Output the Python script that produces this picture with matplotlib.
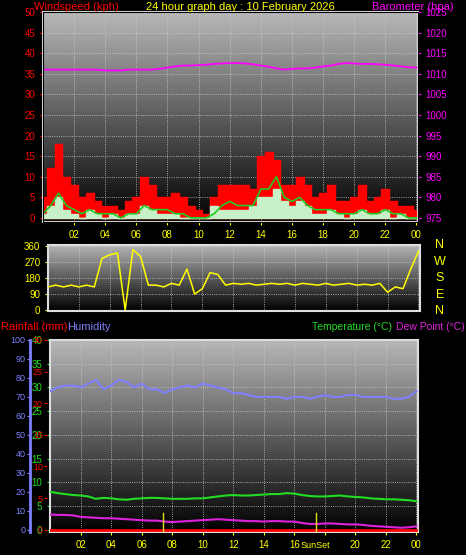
import numpy as np
import matplotlib
matplotlib.use('Agg')
import matplotlib.pyplot as plt

plt.rcParams['font.family'] = ['Liberation Sans', 'DejaVu Sans']
plt.rcParams['font.size'] = 7

# half hour samples 00:00 .. 24:00
hours = np.arange(0, 24.01, 0.5)
gust = [5, 12, 18, 10, 8, 5, 6, 4, 3, 3, 2, 4, 5, 10, 8, 5, 5, 6, 5, 3, 2, 1, 5, 8, 8,
        8, 8, 7, 15, 16, 14, 8, 8, 10, 8, 5, 6, 8, 4, 4, 5, 8, 4, 5, 7, 4, 3, 3, 2]
avg = [1, 3, 6, 3, 2, 1, 2, 1, 1, 1, 0, 1, 1, 3, 2, 2, 2, 1, 1, 0, 0, 0, 1, 3, 4,
       3, 3, 3, 7, 7, 10, 5, 4, 5, 3, 2, 2, 2, 1, 1, 1, 2, 1, 1, 2, 1, 1, 0, 0]
lull = [1, 3, 5, 2, 1, 0, 2, 1, 0, 1, 0, 1, 1, 3, 2, 1, 1, 1, 0, 0, 0, 0, 3, 2, 2,
        2, 2, 3, 5, 5, 7, 4, 3, 4, 3, 1, 1, 2, 1, 0, 1, 2, 1, 1, 2, 0, 1, 0, 0]
baro = [1011, 1011, 1011, 1011, 1011, 1011, 1011, 1011, 1010.8, 1010.8, 1010.8, 1011, 1011,
        1011, 1011, 1011.2, 1011.5, 1011.8, 1012, 1012, 1012.1, 1012.2, 1012.4, 1012.5, 1012.6,
        1012.6, 1012.5, 1012.3, 1012, 1011.7, 1011.3, 1011, 1011.2, 1011.3, 1011.3, 1011.5, 1011.8,
        1012, 1012.4, 1012.6, 1012.5, 1012.4, 1012.4, 1012.3, 1012.2, 1012, 1011.8, 1011.6, 1011.5]
wdir = [130, 140, 130, 140, 130, 140, 130, 290, 310, 320, 0, 340, 300, 140, 140, 130, 150, 140,
        230, 90, 120, 210, 200, 140, 150, 145, 150, 140, 145, 150, 145, 150, 140, 150, 145, 140,
        150, 140, 145, 150, 140, 145, 140, 150, 100, 130, 120, 230, 330]
humid = [73, 75, 76, 76, 75, 77, 79, 74, 76, 79, 78, 75, 77, 74, 74, 72, 74, 75, 76, 75, 77, 76,
         75, 74, 72, 72, 71, 70, 70, 70, 70, 69, 70, 70, 69, 70, 71, 70, 70, 71, 71, 70, 70, 70,
         70, 69, 69, 70, 73]
temp = [8, 7.7, 7.5, 7.3, 7.2, 7, 6.5, 6.7, 6.6, 6.4, 6.3, 6.5, 6.6, 6.7, 6.7, 6.6, 6.5, 6.5,
        6.5, 6.6, 6.6, 6.8, 7, 7.2, 7.3, 7.2, 7.2, 7.3, 7.4, 7.5, 7.5, 7.7, 7.6, 7.3, 7.1, 7,
        7, 7.1, 7.2, 7, 6.9, 6.8, 6.6, 6.5, 6.4, 6.4, 6.3, 6.2, 6]
dew = [3.2, 3.1, 3.1, 3, 2.7, 2.6, 2.5, 2.4, 2.4, 2.3, 2.2, 2.1, 2.0, 1.9, 1.9, 1.7, 1.6, 1.7,
       1.8, 1.9, 2.0, 2.1, 2.2, 2.1, 2.0, 1.9, 1.8, 1.8, 1.7, 1.8, 1.8, 1.7, 1.7, 1.4, 1.2, 1.2,
       1.3, 1.3, 1.2, 1.1, 1.1, 1.0, 0.8, 0.7, 0.6, 0.5, 0.4, 0.5, 0.7]
rain = [0] * len(hours)
sun_events = [7.4, 17.4]
xticks = list(range(2, 25, 2))
xlabels = ['%02d' % (h % 24) for h in xticks]

W, H = 466, 555
fig = plt.figure(figsize=(W / 100, H / 100), dpi=100, facecolor='black')

def box(l, t, r, b):
    return [l / W, 1 - b / H, (r - l) / W, (b - t) / H]

grad = np.linspace(0, 1, 256).reshape(-1, 1)
gcmap = matplotlib.colors.LinearSegmentedColormap.from_list('g', ['#b8b8b8', '#000000'])

def panel(rect):
    ax = fig.add_axes(rect)
    ax.set_facecolor('black')
    ax.imshow(grad, cmap=gcmap, aspect='auto', extent=[0, 1, 0, 1], transform=ax.transAxes, zorder=0)
    ax.set_xlim(0, 24.1)
    ax.set_xticks(xticks)
    ax.grid(True, color='#cccccc', ls=':', lw=0.6, zorder=1)
    for s in ax.spines.values():
        s.set_color('#dddddd')
        s.set_linewidth(1.5)
    ax.tick_params(colors='yellow', labelsize=7, length=2)
    return ax

# --- wind / baro panel
ax1 = panel(box(43, 12, 418, 222))
ax1.set_ylim(-1, 50)
ax1.set_yticks(range(0, 51, 5))
ax1.tick_params(axis='y', colors='red', labelcolor='red')
ax1.set_xticklabels(xlabels)
ax1.fill_between(hours, gust, step='mid', color='red', zorder=2)
ax1.fill_between(hours, lull, step='mid', color='#c8f0c8', zorder=3)
ax1.plot(hours, avg, color='#22cc22', lw=1.2, zorder=4)
ax1b = ax1.twinx()
ax1b.set_ylim(975 - 1, 1025)
ax1b.set_yticks(range(975, 1026, 5))
ax1b.tick_params(colors='magenta', labelsize=7, length=2)
ax1b.plot(hours, baro, color='magenta', lw=1.3)
fig.text(34 / W, 1 - 7 / H, 'Windspeed (kph)', color='red', fontsize=8, va='center')
fig.text(240 / W, 1 - 7 / H, '24 hour graph day : 10 February 2026', color='yellow', fontsize=8, ha='center', va='center')
fig.text(372 / W, 1 - 7 / H, 'Barometer (hpa)', color='magenta', fontsize=8, va='center')

# --- direction panel
ax2 = panel(box(48, 245, 420, 311))
ax2.set_ylim(-5, 365)
ax2.set_yticks(range(0, 361, 90))
ax2.tick_params(axis='x', bottom=False, labelbottom=False)
ax2.plot(hours, wdir, color='yellow', lw=1.1, zorder=3)
for i, c in enumerate('NWSEN'):
    fig.text(440 / W, 1 - (245 + i * 16.5) / H, c, color='yellow', fontsize=9, ha='center', va='center')

# --- temp / humidity / rain panel
ax3 = panel(box(50, 340, 418, 532))
ax3.set_ylim(-0.5, 40)
ax3.set_yticks(range(0, 41, 5))
ax3.yaxis.tick_right()
ax3.tick_params(axis='y', colors='#22dd22', labelcolor='#22dd22')
ax3.plot(hours, [h * 0.4 for h in humid], color='#8080ff', lw=1.5, zorder=3)
ax3.plot(hours, temp, color='#22dd22', lw=1.5, zorder=3)
ax3.plot(hours, dew, color='#dd22dd', lw=1.5, zorder=3)
ax3.plot(hours, [r * 40 / 30 for r in rain], color='red', lw=2, zorder=3)
for s in sun_events:
    ax3.plot([s, s], [-0.5, 3.5], color='#e0e020', lw=1, zorder=4)
ax3.text(17.4, -2.3, 'SunSet', color='yellow', fontsize=6.5, ha='center', va='top')
ax3.set_xticklabels([l if l != '18' else '' for l in xlabels])

rain_ax = ax3.twinx()
rain_ax.set_ylim(-0.5 * 30 / 40, 30)
rain_ax.set_yticks(range(0, 31, 5))
rain_ax.spines['right'].set_visible(False)
rain_ax.spines['top'].set_visible(False)
rain_ax.spines['bottom'].set_visible(False)
rain_ax.yaxis.tick_left()
rain_ax.spines['left'].set_position(('axes', -0.008))
rain_ax.spines['left'].set_visible(False)
rain_ax.tick_params(colors='red', labelsize=6.5, length=2, pad=1)

hum_ax = ax3.twinx()
hum_ax.set_ylim(-0.5 * 100 / 40, 100)
hum_ax.set_yticks(range(0, 101, 10))
hum_ax.spines['right'].set_visible(False)
hum_ax.spines['top'].set_visible(False)
hum_ax.spines['bottom'].set_visible(False)
hum_ax.yaxis.tick_left()
hum_ax.spines['left'].set_position(('axes', -0.055))
hum_ax.spines['left'].set_color('#8080ff')
hum_ax.spines['left'].set_linewidth(2)
hum_ax.tick_params(colors='#8080ff', labelsize=6.5, length=2, pad=1)

fig.text(1 / W, 1 - 327 / H, 'Rainfall (mm)', color='red', fontsize=8, va='center')
fig.text(67 / W, 1 - 327 / H, 'Humidity', color='#8080ff', fontsize=8, va='center')
fig.text(312 / W, 1 - 327 / H, 'Temperature (\u00b0C)', color='#22dd22', fontsize=7.5, va='center')
fig.text(465 / W, 1 - 327 / H, 'Dew Point (\u00b0C)', color='#dd22dd', fontsize=7.5, va='center', ha='right')

fig.savefig('out.png', dpi=100, facecolor='black')
